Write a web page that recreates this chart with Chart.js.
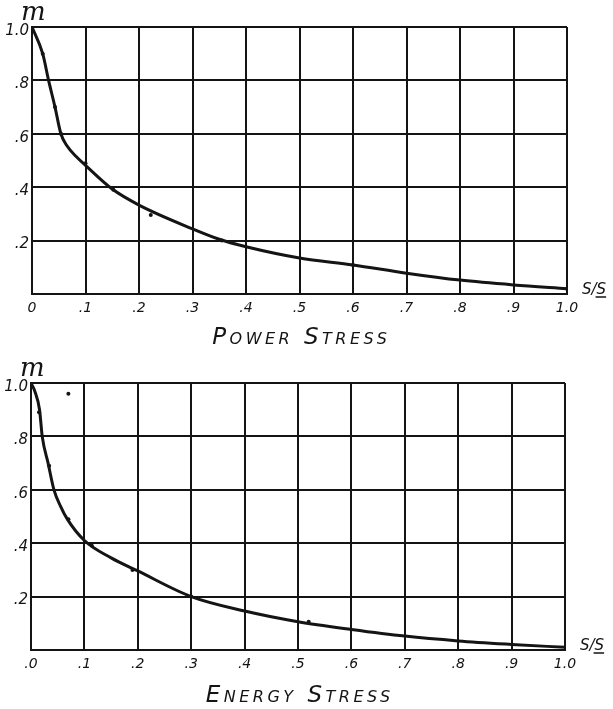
<!DOCTYPE html>
<html>
<head>
<meta charset="utf-8">
<script src="https://cdn.jsdelivr.net/npm/chart.js@4"></script>
<style>
  html, body { margin: 0; padding: 0; background: #fff; }
  canvas { position: absolute; left: 0; }
  #powerChart { top: 0; }
  #energyChart { top: 350px; }
</style>
</head>
<body>
<canvas id="powerChart" width="613" height="350"></canvas>
<canvas id="energyChart" width="613" height="359"></canvas>
<script>
// tick labels as lettered on the sheet
var xTickLabels = ['0', '.1', '.2', '.3', '.4', '.5', '.6', '.7', '.8', '.9', '1.0'];
var xTickLabelsEnergy = ['.0', '.1', '.2', '.3', '.4', '.5', '.6', '.7', '.8', '.9', '1.0'];
var yTickLabels = ['', '.2', '.4', '.6', '.8', '1.0'];

// power stress: faired curve and plotted points (x = s/S, y = m)
var powerCurveX = [0, 0.02, 0.031, 0.043, 0.054, 0.065, 0.083, 0.1, 0.15, 0.2, 0.3, 0.35, 0.4, 0.5, 0.6, 0.7, 0.8, 0.9, 1.0];
var powerCurveY = [1.0, 0.9, 0.8, 0.7, 0.6, 0.556, 0.514, 0.482, 0.393, 0.333, 0.244, 0.205, 0.177, 0.135, 0.109, 0.078, 0.052, 0.034, 0.02];
var powerPointsX = [0.02, 0.043, 0.054, 0.1, 0.152, 0.222, 0.355, 0.6, 1.0];
var powerPointsY = [0.9, 0.70, 0.6, 0.49, 0.39, 0.296, 0.2, 0.109, 0.02];

// energy stress
var energyCurveX = [0, 0.007, 0.016, 0.021, 0.032, 0.043, 0.055, 0.068, 0.1, 0.15, 0.2, 0.3, 0.4, 0.5, 0.6, 0.7, 0.8, 0.9, 1.0];
var energyCurveY = [1.0, 0.97, 0.9, 0.8, 0.7, 0.6, 0.54, 0.49, 0.41, 0.345, 0.296, 0.2, 0.146, 0.106, 0.077, 0.052, 0.034, 0.021, 0.01];
var energyPointsX = [0.015, 0.034, 0.07, 0.114, 0.19, 0.3, 0.52, 0.07];
var energyPointsY = [0.89, 0.69, 0.49, 0.39, 0.30, 0.2, 0.106, 0.96];

var ink = '#141414';
var handFont = '"DejaVu Sans", sans-serif';

function pairs(xs, ys) {
  return xs.map(function (x, i) { return { x: x, y: ys[i] }; });
}

// the "m" over the y axis, "s/S" at the end of the x axis, and the caption
var axisLetters = {
  id: 'axisLetters',
  afterDraw: function (chart, args, opts) {
    var ctx = chart.ctx, a = chart.chartArea;
    ctx.save();
    ctx.fillStyle = ink;
    ctx.strokeStyle = ink;
    ctx.font = 'italic 26px "DejaVu Serif", serif';
    ctx.textAlign = 'left';
    ctx.textBaseline = 'alphabetic';
    ctx.fillText('m', a.left - 11, a.top - 7);

    ctx.font = 'italic 15px ' + handFont;
    ctx.textBaseline = 'middle';
    var x0 = a.right + 15, y0 = a.bottom - 4;
    ctx.fillText('S/', x0, y0);
    var w = ctx.measureText('S/').width;
    ctx.fillText('S', x0 + w, y0);
    var ws = ctx.measureText('S').width;
    ctx.lineWidth = 1.5;
    ctx.beginPath();
    ctx.moveTo(x0 + w - 1, y0 + 7);
    ctx.lineTo(x0 + w + ws, y0 + 7);
    ctx.stroke();

    // caption under the axis, lettered wide
    ctx.font = 'italic small-caps 23px ' + handFont;
    ctx.letterSpacing = opts.spacing + 'px';
    ctx.textAlign = 'center';
    ctx.fillText(opts.caption, (a.left + a.right) / 2 + opts.spacing / 2, a.bottom + opts.captionGap);
    ctx.restore();
  }
};

function makeChart(id, curve, points, xLabels, opts) {
  var ctx = document.getElementById(id).getContext('2d');
  return new Chart(ctx, {
    type: 'scatter',
    data: {
      datasets: [{
        data: curve,
        showLine: true,
        borderColor: ink,
        borderWidth: 3,
        pointRadius: 0,
        cubicInterpolationMode: 'monotone'
      }, {
        data: points,
        showLine: false,
        pointRadius: 2,
        pointBackgroundColor: ink,
        pointBorderWidth: 0
      }]
    },
    plugins: [axisLetters],
    options: {
      responsive: false,
      animation: false,
      layout: { padding: { top: opts.top, right: opts.right, left: 0, bottom: 0 } },
      plugins: {
        legend: { display: false },
        tooltip: { enabled: false },
        axisLetters: { caption: opts.caption, spacing: opts.spacing, captionGap: opts.captionGap }
      },
      scales: {
        x: {
          type: 'linear',
          min: 0,
          max: 1,
          afterFit: function (s) { s.height = opts.xHeight; },
          grid: { color: ink, lineWidth: 2, drawTicks: false },
          border: { color: ink, width: 2 },
          ticks: {
            stepSize: 0.1,
            padding: 6,
            maxRotation: 0,
            color: ink,
            font: { family: handFont, size: 14, style: 'italic' },
            callback: function (v) { return xLabels[Math.round(v * 10)]; }
          }
        },
        y: {
          min: 0,
          max: 1,
          afterFit: function (s) { s.width = opts.yWidth; },
          grid: { color: ink, lineWidth: 2, drawTicks: false },
          border: { color: ink, width: 2 },
          ticks: {
            stepSize: 0.2,
            padding: 3,
            labelOffset: 4,
            color: ink,
            font: { family: handFont, size: 15, style: 'italic' },
            callback: function (v) { return yTickLabels[Math.round(v * 5)]; }
          }
        }
      }
    }
  });
}

makeChart('powerChart', pairs(powerCurveX, powerCurveY), pairs(powerPointsX, powerPointsY), xTickLabels,
  { top: 27, right: 46, xHeight: 56, yWidth: 32, caption: 'Power Stress', spacing: 3.5, captionGap: 44 });

makeChart('energyChart', pairs(energyCurveX, energyCurveY), pairs(energyPointsX, energyPointsY), xTickLabelsEnergy,
  { top: 33, right: 48, xHeight: 59, yWidth: 31, caption: 'Energy Stress', spacing: 3.5, captionGap: 46 });
</script>
</body>
</html>
